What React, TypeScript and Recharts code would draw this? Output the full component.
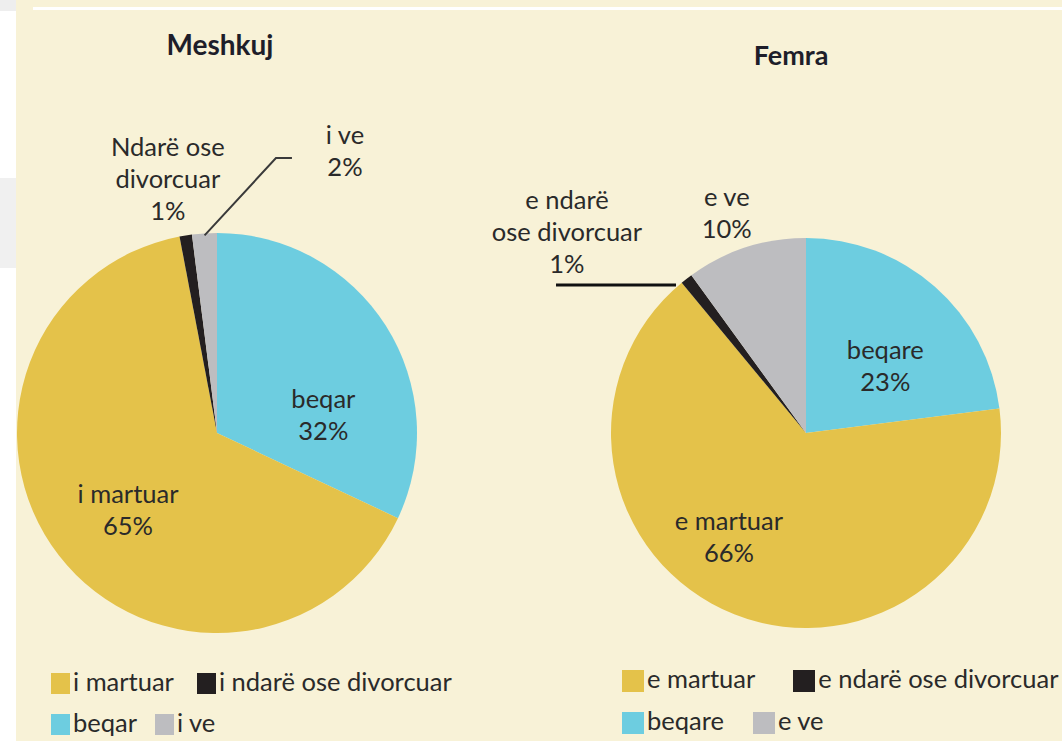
import React from 'react';
import { PieChart, Pie, Cell, Legend } from 'recharts';

// ---------- data ----------
const maleCategories = ['beqar', 'i martuar', 'i ndarë ose divorcuar', 'i ve'];
const maleValues = [32, 65, 1, 2];
const maleLabelNames = [['beqar'], ['i martuar'], ['Ndarë ose', 'divorcuar'], ['i ve']];

const femaleCategories = ['beqare', 'e martuar', 'e ndarë ose divorcuar', 'e ve'];
const femaleValues = [23, 66, 1, 10];
const femaleLabelNames = [['beqare'], ['e martuar'], ['e ndarë', 'ose divorcuar'], ['e ve']];

const legendOrder = [1, 2, 0, 3];
const titles = ['Meshkuj', 'Femra'];

// ---------- styles ----------
const sliceColors = ['#6DCDE0', '#E4C24A', '#231F20', '#BDBDC0'];
const BG = '#F8F2D7';
const FONT = 'Lato, "Open Sans", sans-serif';
const TEXT = '#2A2A2A';
const FS = 25.5;
const RAD = Math.PI / 180;

type Leader = { elbowAngle?: number; elbowR?: number; tail: number; shift?: number; startR: number; width: number; color: string };
type Place = { angle: number; r: number; leader?: Leader };

const malePlacement: Place[] = [
  { angle: 10, r: 0.54 },
  { angle: 220.5, r: 0.585 },
  { angle: 100.9, r: 1.3 },
  { angle: 65.7, r: 1.555, leader: { elbowAngle: 77.9, elbowR: 1.406, tail: 16, startR: 0.99, width: 2, color: '#3A3A3A' } },
];
const femalePlacement: Place[] = [
  { angle: 40.5, r: 0.535 },
  { angle: 233.2, r: 0.66 },
  { angle: 139.8, r: 1.605, leader: { tail: -120, shift: 3.5, startR: 1.01, width: 3, color: '#111' } },
  { angle: 109.7, r: 1.205 },
];

const polar = (cx: number, cy: number, r: number, a: number) => [cx + r * Math.cos(a * RAD), cy - r * Math.sin(a * RAD)];

function makeLabel(names: string[][], places: Place[]) {
  return (props: any) => {
    const { cx, cy, midAngle, outerRadius, index, value } = props;
    const p = places[index];
    const [x, y] = polar(cx, cy, outerRadius * p.r, p.angle);
    const lines = [...names[index], `${value}%`];
    const lh = 32;
    let path: string | null = null;
    if (p.leader) {
      const L = p.leader;
      const [sx, sy] = polar(cx, cy, outerRadius * L.startR, midAngle + (L.shift || 0));
      if (L.elbowAngle !== undefined) {
        const [ex, ey] = polar(cx, cy, outerRadius * (L.elbowR || 1), L.elbowAngle);
        path = `M${sx},${sy}L${ex},${ey}L${ex + L.tail},${ey}`;
      } else {
        path = `M${sx},${sy}L${sx + L.tail},${sy}`;
      }
    }
    return (
      <g>
        {path && p.leader && <path d={path} stroke={p.leader.color} strokeWidth={p.leader.width} fill="none" />}
        <text x={x} y={y} textAnchor="middle" fontFamily={FONT} fontSize={FS} fill={TEXT}>
          {lines.map((t, i) => (
            <tspan key={i} x={x} y={y + (i - (lines.length - 1) / 2) * lh} dominantBaseline="central">
              {t}
            </tspan>
          ))}
        </text>
      </g>
    );
  };
}

function makeLegend(rowGaps: number[], sw: number, sh: number, rowH: number) {
  return (props: any) => {
    const payload = props.payload || [];
    const items = legendOrder.map((i) => payload[i]).filter(Boolean);
    const rows = [items.slice(0, 2), items.slice(2, 4)];
    return (
      <div style={{ fontFamily: FONT, fontSize: FS, color: TEXT }}>
        {rows.map((row, ri) => (
          <div key={ri} style={{ display: 'flex', alignItems: 'center', height: rowH }}>
            {row.map((e: any, j: number) => (
              <div key={j} style={{ display: 'flex', alignItems: 'center', marginRight: rowGaps[ri] }}>
                <div style={{ width: sw, height: sh, background: e.color, marginRight: 3 }} />
                <span style={{ lineHeight: `${FS}px`, whiteSpace: 'nowrap', position: 'relative', top: -2 }}>{e.value}</span>
              </div>
            ))}
          </div>
        ))}
      </div>
    );
  };
}

const maleData = maleCategories.map((name, i) => ({ name, value: maleValues[i] }));
const femaleData = femaleCategories.map((name, i) => ({ name, value: femaleValues[i] }));

const RIGHT_LEFT = 300;

export default function App() {
  return (
    <div style={{ position: 'absolute', left: 0, top: 0, width: 1062, height: 741, background: '#FFFFFF', overflow: 'hidden' }}>
      <div style={{ position: 'absolute', left: 0, top: 0, width: 16, height: 11, background: '#EEEEEE' }} />
      <div style={{ position: 'absolute', left: 0, top: 178, width: 16, height: 90, background: '#F0F0F0' }} />
      <div style={{ position: 'absolute', left: 16, top: 0, width: 1046, height: 741, background: BG }} />
      <div style={{ position: 'absolute', left: 33, top: 7, width: 1029, height: 3, background: '#FFFFFF' }} />

      <div style={{ position: 'absolute', left: 0, top: 0 }}>
        <PieChart width={531} height={741} margin={{ top: 0, right: 0, bottom: 0, left: 0 }}>
          <Pie
            data={maleData}
            dataKey="value"
            nameKey="name"
            cx={217}
            cy={433}
            outerRadius={200}
            startAngle={90}
            endAngle={-270}
            stroke="none"
            isAnimationActive={false}
            labelLine={false}
            label={makeLabel(maleLabelNames, malePlacement)}
          >
            {maleData.map((_, i) => (
              <Cell key={i} fill={sliceColors[i]} />
            ))}
          </Pie>
          <Legend
            verticalAlign="bottom"
            align="left"
            content={makeLegend([23, 18], 19, 21, 41)}
            wrapperStyle={{ left: 51, top: 663, bottom: 'auto', width: 'auto' }}
          />
        </PieChart>
      </div>

      <div style={{ position: 'absolute', left: RIGHT_LEFT, top: 0 }}>
        <PieChart width={1062 - RIGHT_LEFT} height={741} margin={{ top: 0, right: 0, bottom: 0, left: 0 }}>
          <Pie
            data={femaleData}
            dataKey="value"
            nameKey="name"
            cx={806 - RIGHT_LEFT}
            cy={433}
            outerRadius={195}
            startAngle={90}
            endAngle={-270}
            stroke="none"
            isAnimationActive={false}
            labelLine={false}
            label={makeLabel(femaleLabelNames, femalePlacement)}
          >
            {femaleData.map((_, i) => (
              <Cell key={i} fill={sliceColors[i]} />
            ))}
          </Pie>
          <Legend
            verticalAlign="bottom"
            align="left"
            content={makeLegend([38, 29], 22, 22, 42)}
            wrapperStyle={{ left: 622 - RIGHT_LEFT, top: 660, bottom: 'auto', width: 'auto' }}
          />
        </PieChart>
      </div>

      <div style={{ position: 'absolute', left: 120, width: 200, top: 27, textAlign: 'center', fontFamily: FONT, fontWeight: 700, fontSize: 28, lineHeight: 'normal', color: '#1E1E2A' }}>
        {titles[0]}
      </div>
      <div style={{ position: 'absolute', left: 671, width: 240, top: 38, textAlign: 'center', fontFamily: FONT, fontWeight: 700, fontSize: 27, lineHeight: 'normal', color: '#1E1E2A' }}>
        {titles[1]}
      </div>
    </div>
  );
}
